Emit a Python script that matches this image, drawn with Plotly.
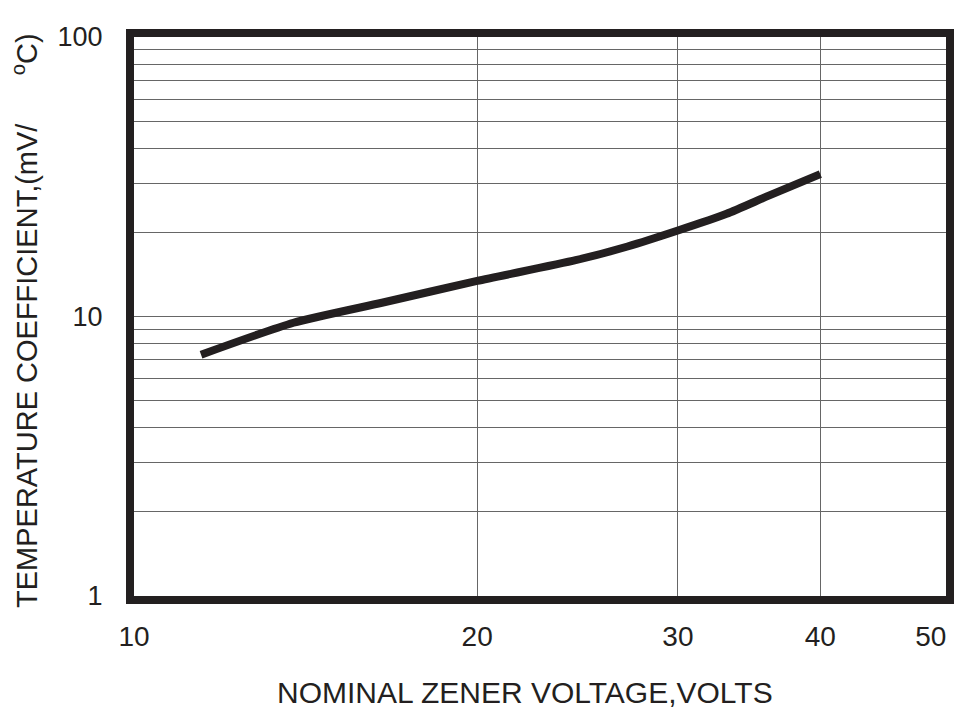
import math
import plotly.graph_objects as go

# Data
voltage = [11.45, 13.8, 16.5, 20.0, 24.4, 27.1, 30.0, 33.1, 36.0, 40.0]
temp_coeff = [7.3, 9.5, 11.2, 13.4, 15.9, 17.8, 20.3, 23.3, 27.0, 32.3]

x_ticks = [10, 20, 30, 40, 50]
x_tick_labels = ["10", "20", "30", "40", "50"]
x_grid = [20, 30, 40]
y_ticks = [1, 10, 100]
y_tick_labels = ["1", "10", "100"]
y_minor = [2, 3, 4, 5, 6, 7, 8, 9, 20, 30, 40, 50, 60, 70, 80, 90]

x_title = "NOMINAL ZENER VOLTAGE,VOLTS"
y_title = "TEMPERATURE COEFFICIENT,(mV/" + "\u00a0" * 6 + "<sup>o</sup>C)"

INK = "#231f20"
GRID = "#666666"
FONT = "Liberation Sans, Arial, sans-serif"

fig = go.Figure()
fig.add_trace(go.Scatter(
    x=voltage, y=temp_coeff, mode="lines",
    line=dict(color=INK, width=8, shape="spline", smoothing=0.6),
    hoverinfo="skip", showlegend=False,
))

fig.update_layout(
    width=974, height=715,
    margin=dict(l=134, r=28, t=37, b=119),
    paper_bgcolor="white", plot_bgcolor="white",
    font=dict(family=FONT, color=INK),
    showlegend=False,
    xaxis=dict(
        type="log", range=[1, 1.7123],
        tickvals=x_ticks, ticktext=x_tick_labels,
        tickfont=dict(size=28, color=INK, family=FONT),
        showgrid=False,
        minor=dict(tickvals=x_grid, showgrid=True, gridcolor=GRID, gridwidth=1, ticks=""),
        showline=True, linecolor=INK, linewidth=8, mirror=True,
        ticks="", zeroline=False, ticklabelstandoff=8,
    ),
    yaxis=dict(
        type="log", range=[0, 2],
        tickvals=y_ticks, ticktext=y_tick_labels,
        tickfont=dict(size=27, color=INK, family=FONT),
        showgrid=True, gridcolor=GRID, gridwidth=1,
        minor=dict(tickvals=y_minor, showgrid=True, gridcolor=GRID, gridwidth=1, ticks=""),
        showline=True, linecolor=INK, linewidth=8, mirror=True,
        ticks="", zeroline=False, ticklabelstandoff=18,
    ),
    annotations=[
        dict(text=x_title, xref="paper", yref="paper",
             x=(525 - 134) / 812, y=(596 - 692) / 559,
             xanchor="center", yanchor="middle", showarrow=False,
             font=dict(size=30, color=INK, family=FONT)),
        dict(text=y_title, xref="paper", yref="paper",
             x=(25 - 134) / 812, y=(596 - 321) / 559,
             xanchor="center", yanchor="middle", showarrow=False,
             textangle=-90,
             font=dict(size=29, color=INK, family=FONT)),
    ],
)

fig.write_html("out.html")
